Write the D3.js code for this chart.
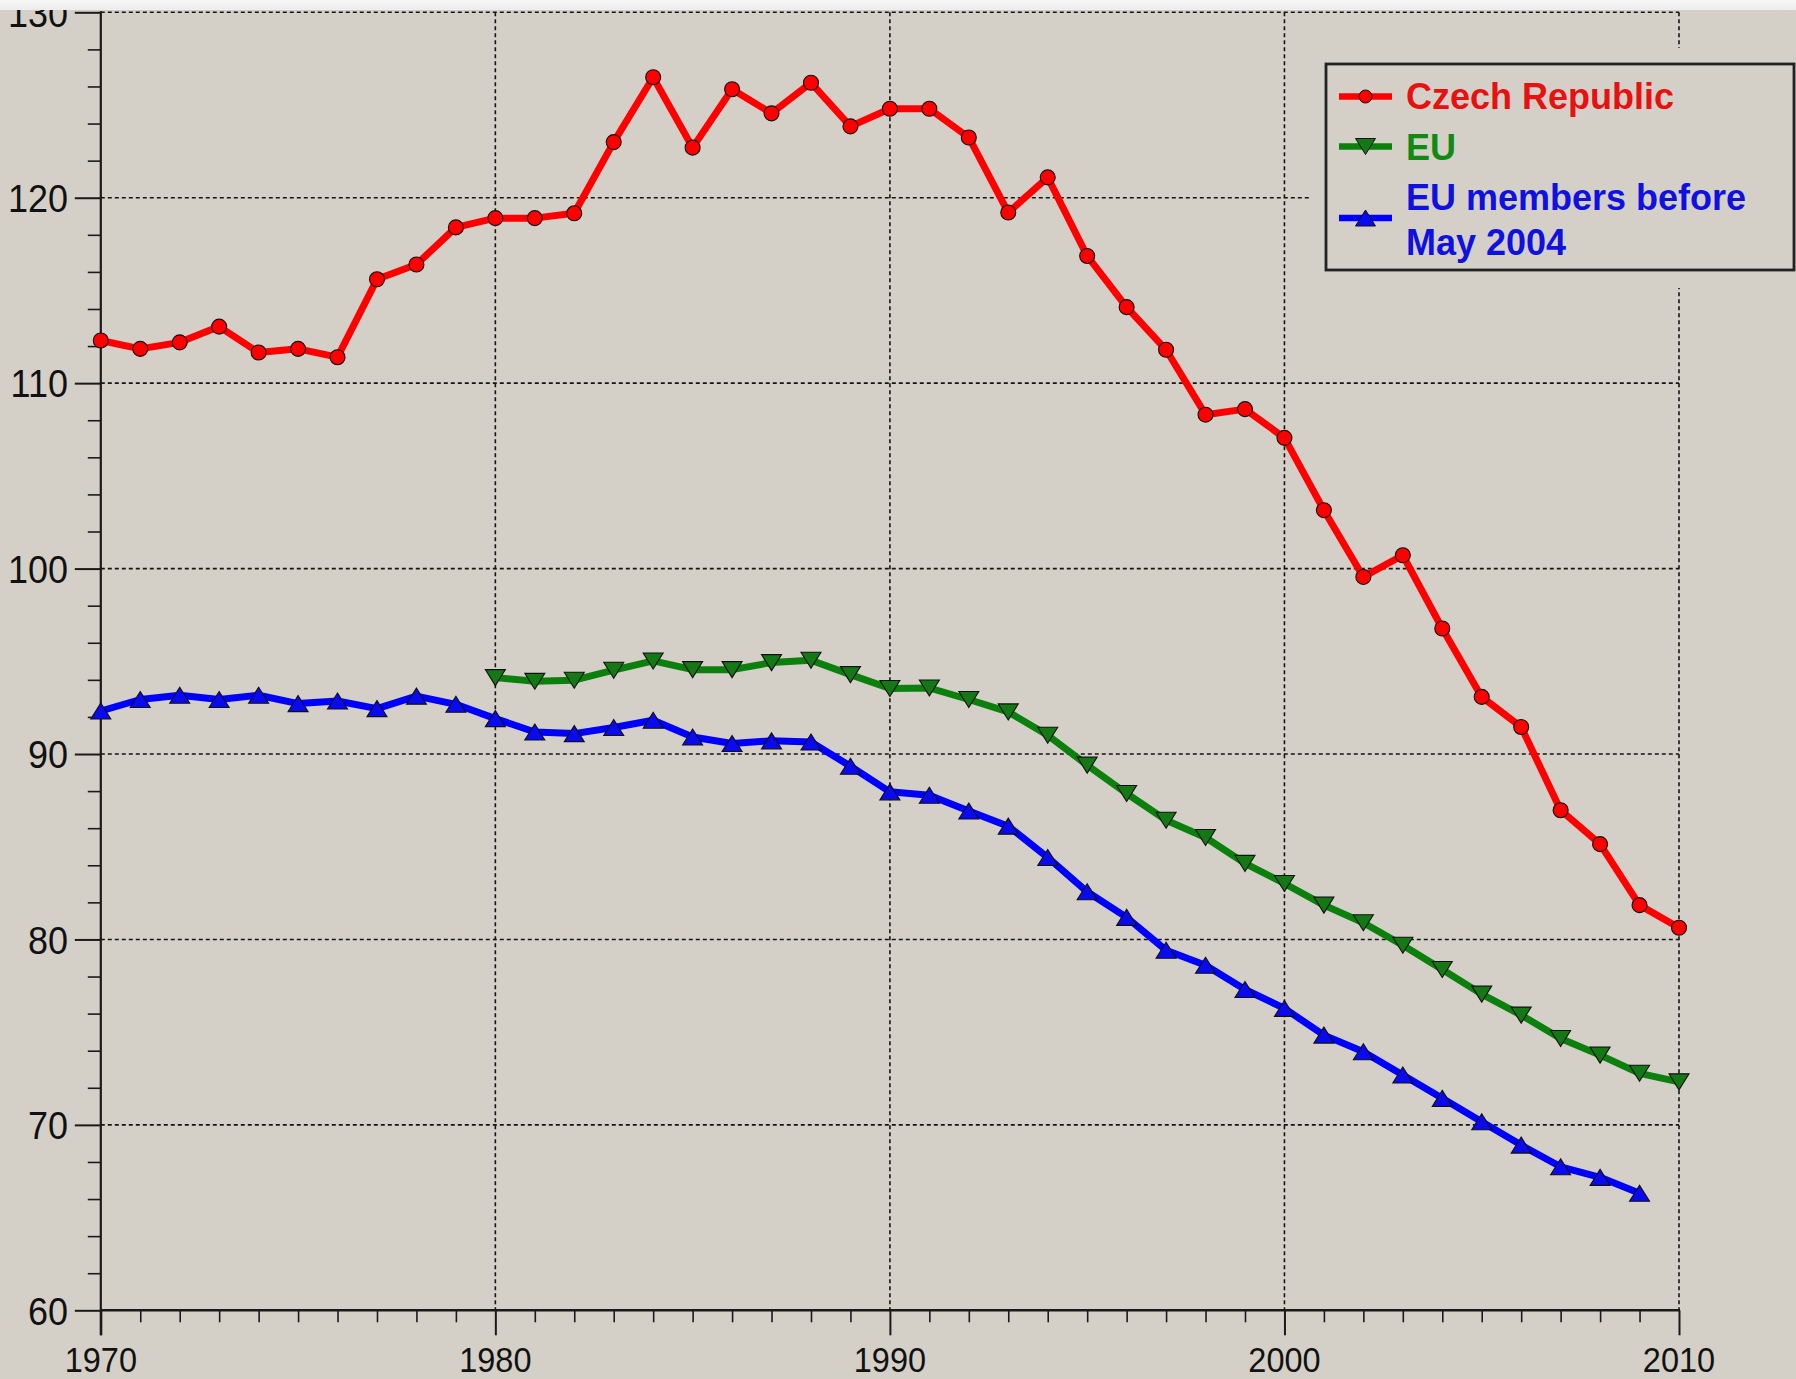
<!DOCTYPE html>
<html>
<head>
<meta charset="utf-8">
<script src="https://cdn.jsdelivr.net/npm/d3@7"></script>
<style>
html,body{margin:0;padding:0;background:#d4d0c8;overflow:hidden}
svg{display:block}
text{font-family:"Liberation Sans",Arial,Helvetica,sans-serif}
</style>
</head>
<body>
<svg id="chart" width="1796" height="1379"></svg>
<script>
// ---------- data ----------
const years = [1970,1971,1972,1973,1974,1975,1976,1977,1978,1979,
               1980,1981,1982,1983,1984,1985,1986,1987,1988,1989,
               1990,1991,1992,1993,1994,1995,1996,1997,1998,1999,
               2000,2001,2002,2003,2004,2005,2006,2007,2008,2009,2010];

const czechRepublic = [112.3,111.85,112.2,113.05,111.65,111.85,111.4,115.6,116.4,118.4,
                       118.9,118.9,119.16,123.0,126.5,122.7,125.85,124.55,126.2,123.85,
                       124.8,124.8,123.25,119.2,121.1,116.86,114.1,111.8,108.3,108.6,
                       107.05,103.15,99.55,100.72,96.77,93.08,91.46,86.97,85.14,81.85,80.63];

const eu = [null,null,null,null,null,null,null,null,null,null,
            94.12,93.92,93.98,94.52,95.02,94.55,94.55,94.93,95.06,94.28,
            93.53,93.56,92.94,92.27,91.01,89.4,87.87,86.43,85.5,84.1,
            83.02,81.85,80.9,79.69,78.38,77.05,75.92,74.66,73.76,72.78,72.32];

const euBefore2004 = [92.32,92.94,93.17,92.94,93.17,92.72,92.86,92.45,93.12,92.68,
                      91.91,91.19,91.1,91.43,91.82,90.92,90.57,90.71,90.65,89.34,
                      87.96,87.78,86.93,86.11,84.42,82.57,81.19,79.42,78.61,77.3,
                      76.28,74.84,73.94,72.69,71.43,70.17,68.91,67.74,67.17,66.31,null];

const yTickValues = [60,70,80,90,100,110,120,130];
const xTickValues = [1970,1980,1990,2000,2010];
const seriesNames = ["Czech Republic","EU","EU members before May 2004"];

// ---------- setup ----------
const W = 1796, H = 1379;
const BG = "#d4d0c8";
const svg = d3.select("#chart");

const x = d3.scaleLinear().domain([1970,2010]).range([100.8,1679]);
const y = d3.scaleLinear().domain([60,130]).range([1310.3,12.3]);

svg.append("rect").attr("width",W).attr("height",H).attr("fill",BG);

// ---------- grid ----------
const grid = svg.append("g").attr("stroke","#151515").attr("stroke-width",1.6).attr("stroke-dasharray","4,3");
grid.selectAll("line.h").data(yTickValues.filter(v => v !== 60)).join("line")
  .attr("class","h")
  .attr("x1",x(1970)).attr("x2",x(2010))
  .attr("y1",d => y(d)).attr("y2",d => y(d));
grid.selectAll("line.v").data(xTickValues.filter(v => v !== 1970)).join("line")
  .attr("class","v")
  .attr("x1",d => x(d)).attr("x2",d => x(d))
  .attr("y1",y(130)).attr("y2",y(60));

// ---------- axes ----------
const axisColor = "#1a1a1a";
function styleAxis(g, w){
  g.select(".domain").remove();
  g.selectAll(".tick line").attr("stroke",axisColor).attr("stroke-width",w);
}
const yMinor = d3.range(60,131,2).filter(v => v % 10 !== 0);
const xMinor = d3.range(1970,2011,1).filter(v => v % 10 !== 0);

svg.append("g").attr("transform",`translate(${x(1970)},0)`)
  .call(d3.axisLeft(y).tickValues(yTickValues).tickSize(26).tickFormat(""))
  .call(g => styleAxis(g,2));
svg.append("g").attr("transform",`translate(${x(1970)},0)`)
  .call(d3.axisLeft(y).tickValues(yMinor).tickSize(13).tickFormat(""))
  .call(g => styleAxis(g,1.6));
svg.append("g").attr("transform",`translate(0,${y(60)})`)
  .call(d3.axisBottom(x).tickValues(xTickValues).tickSize(25).tickFormat(""))
  .call(g => styleAxis(g,2));
svg.append("g").attr("transform",`translate(0,${y(60)})`)
  .call(d3.axisBottom(x).tickValues(xMinor).tickSize(12).tickFormat(""))
  .call(g => styleAxis(g,1.6));

// axis lines
svg.append("line").attr("x1",x(1970)).attr("x2",x(1970)).attr("y1",y(130)-1).attr("y2",y(60)+25)
  .attr("stroke",axisColor).attr("stroke-width",2.2);
svg.append("line").attr("x1",x(1970)).attr("x2",x(2010)+1).attr("y1",y(60)).attr("y2",y(60))
  .attr("stroke",axisColor).attr("stroke-width",2.6);

// tick labels
svg.append("g").selectAll("text").data(yTickValues).join("text")
  .attr("transform",d => `translate(68,${y(d)+14.2}) scale(1,1.1)`)
  .attr("text-anchor","end").attr("font-size",36).attr("fill","#111")
  .text(d => d);
svg.append("g").selectAll("text").data(xTickValues).join("text")
  .attr("transform",d => `translate(${x(d)},1372) scale(1,1.1)`)
  .attr("text-anchor","middle").attr("font-size",32.5).attr("fill","#111")
  .text(d => d);

// ---------- series ----------
const series = [
  {name: seriesNames[2], values: euBefore2004, color:"#0000ff", fill:"#0a0af0", marker:"up"},
  {name: seriesNames[1], values: eu, color:"#0c800c", fill:"#147814", marker:"down"},
  {name: seriesNames[0], values: czechRepublic, color:"#ff0000", fill:"#ff0000", marker:"circle"}
];

const line = d3.line()
  .defined(d => d.v !== null)
  .x(d => x(d.year)).y(d => y(d.v));

function markerPath(type){
  const hw = 10, hh = 8;
  if (type === "up") return `M0,${-hh}L${hw},${hh}L${-hw},${hh}Z`;
  if (type === "down") return `M0,${hh}L${hw},${-hh}L${-hw},${-hh}Z`;
  return null;
}

series.forEach(s => {
  const pts = years.map((yr,i) => ({year: yr, v: s.values[i]}));
  const g = svg.append("g");
  g.append("path").datum(pts).attr("d",line)
    .attr("fill","none").attr("stroke",s.color).attr("stroke-width",7)
    .attr("stroke-linejoin","round").attr("stroke-linecap","round");
  const valid = pts.filter(d => d.v !== null);
  if (s.marker === "circle") {
    g.selectAll("circle").data(valid).join("circle")
      .attr("cx",d => x(d.year)).attr("cy",d => y(d.v)).attr("r",7.5)
      .attr("fill",s.fill).attr("stroke","#111").attr("stroke-width",1.1);
  } else {
    g.selectAll("path.m").data(valid).join("path").attr("class","m")
      .attr("transform",d => `translate(${x(d.year)},${y(d.v)})`)
      .attr("d",markerPath(s.marker))
      .attr("fill",s.fill).attr("stroke","#111").attr("stroke-width",1.1);
  }
});

// light band at very top (cropped slide area), drawn over the top label
const grad = svg.append("defs").append("linearGradient").attr("id","topband")
  .attr("x1",0).attr("x2",0).attr("y1",0).attr("y2",1);
grad.append("stop").attr("offset","0%").attr("stop-color","#f7f7f7");
grad.append("stop").attr("offset","100%").attr("stop-color","#ececec");
svg.append("rect").attr("x",0).attr("y",0).attr("width",W).attr("height",10).attr("fill","url(#topband)");

// ---------- legend ----------
const lg = svg.append("g");
lg.append("rect").attr("x",1310).attr("y",48).attr("width",486).attr("height",240).attr("fill",BG);
lg.append("rect").attr("x",1326).attr("y",64).attr("width",468).attr("height",206)
  .attr("fill",BG).attr("stroke","#222").attr("stroke-width",2.8);

const legendItems = [
  {lines:[seriesNames[0]], color:"#ff0000", text:"#e81010", fill:"#ff0000", marker:"circle", ly:96.5, ty:[109]},
  {lines:[seriesNames[1]], color:"#0c800c", text:"#128a12", fill:"#147814", marker:"down", ly:146.5, ty:[159.5]},
  {lines:["EU members before","May 2004"], color:"#0000ff", text:"#1010e0", fill:"#0a0af0", marker:"up", ly:218, ty:[209.5,254.5]}
];
legendItems.forEach(it => {
  lg.append("line").attr("x1",1339).attr("x2",1392).attr("y1",it.ly).attr("y2",it.ly)
    .attr("stroke",it.color).attr("stroke-width",6.5);
  if (it.marker === "circle") {
    lg.append("circle").attr("cx",1365.5).attr("cy",it.ly).attr("r",6.5)
      .attr("fill",it.fill).attr("stroke","#111").attr("stroke-width",1);
  } else {
    lg.append("path").attr("transform",`translate(1365.5,${it.ly})`).attr("d",markerPath(it.marker))
      .attr("fill",it.fill).attr("stroke","#111").attr("stroke-width",1);
  }
  const t = lg.append("text").attr("x",1406).attr("font-size",36).attr("font-weight","bold").attr("fill",it.text);
  it.lines.forEach((ln,i) => {
    t.append("tspan").attr("x",1406).attr("y",it.ty[i]).text(ln);
  });
});
</script>
</body>
</html>
